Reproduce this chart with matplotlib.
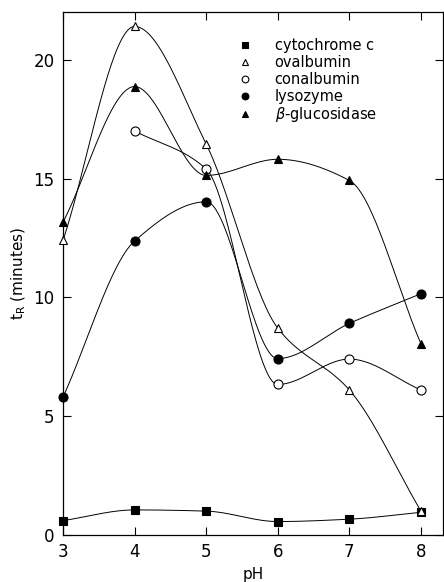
import numpy as np
import matplotlib
matplotlib.use("Agg")
import matplotlib.pyplot as plt

plt.rcParams['font.family'] = ['DejaVu Sans']

ph = [3, 4, 5, 6, 7, 8]
cytochrome_c = [0.6, 1.05, 1.0, 0.56, 0.66, 0.95]
ovalbumin = [12.4, 21.4, 16.45, 8.7, 6.1, 1.0]
ph_conal = [4, 5, 6, 7, 8]
conalbumin = [17.0, 15.4, 6.33, 7.4, 6.1]
lysozyme = [5.8, 12.37, 14.02, 7.42, 8.9, 10.15]
b_glucosidase = [13.17, 18.87, 15.13, 15.81, 14.92, 8.05]

names = ['cytochrome c', 'ovalbumin', 'conalbumin', 'lysozyme', r'$\beta$-glucosidase']
xticks = [3, 4, 5, 6, 7, 8]
yticks = [0, 5, 10, 15, 20]


def pchip(x, y, n=60):
    x = np.asarray(x, float)
    y = np.asarray(y, float)
    h = np.diff(x)
    d = np.diff(y) / h
    m = np.zeros_like(y)
    for k in range(1, len(x) - 1):
        if d[k - 1] * d[k] > 0:
            w1 = 2 * h[k] + h[k - 1]
            w2 = h[k] + 2 * h[k - 1]
            m[k] = (w1 + w2) / (w1 / d[k - 1] + w2 / d[k])
    m[0] = d[0]
    m[-1] = d[-1]
    xs, ys = [], []
    for k in range(len(x) - 1):
        t = np.linspace(0, 1, n)
        h00 = 2 * t**3 - 3 * t**2 + 1
        h10 = t**3 - 2 * t**2 + t
        h01 = -2 * t**3 + 3 * t**2
        h11 = t**3 - t**2
        xs.append(x[k] + t * h[k])
        ys.append(h00 * y[k] + h10 * h[k] * m[k] + h01 * y[k + 1] + h11 * h[k] * m[k + 1])
    return np.concatenate(xs), np.concatenate(ys)


fig = plt.figure(figsize=(4.44, 5.82), dpi=100)
ax = fig.add_axes([0.142, 0.081, 0.856, 0.898])

series = [
    (ph, cytochrome_c, 's', 'black', 'black', 6),
    (ph, ovalbumin, '^', 'white', 'black', 6),
    (ph_conal, conalbumin, 'o', 'white', 'black', 6.5),
    (ph, lysozyme, 'o', 'black', 'black', 6.5),
    (ph, b_glucosidase, '^', 'black', 'black', 6),
]
handles = []
for (xv, yv, mk, fc, ec, ms), name in zip(series, names):
    sx, sy = pchip(xv, yv)
    ax.plot(sx, sy, color='black', lw=0.7, zorder=2)
    h = ax.plot(xv, yv, ls='none', marker=mk, mfc=fc, mec=ec, ms=ms, mew=0.8,
                zorder=3, clip_on=False, label=name)[0]
    handles.append(h)

ax.set_xlim(3, 8.31)
ax.set_ylim(0, 22)
ax.set_xticks(xticks)
ax.set_yticks(yticks)
ax.tick_params(direction='in', top=True, right=True, length=6, width=0.8,
               labelsize=12, pad=6)
for s in ax.spines.values():
    s.set_linewidth(0.9)

ax.set_xlabel('pH', fontsize=11, labelpad=4)
ax.set_ylabel(r'$\mathregular{t_R}$ (minutes)', fontsize=11, labelpad=4)

leg = ax.legend(handles=handles, loc='upper left', bbox_to_anchor=(0.43, 0.975),
                frameon=False, fontsize=10.5, handlelength=0.8, handletextpad=1.6,
                labelspacing=0.12, markerscale=0.75)

fig.savefig('out.png', dpi=100)
